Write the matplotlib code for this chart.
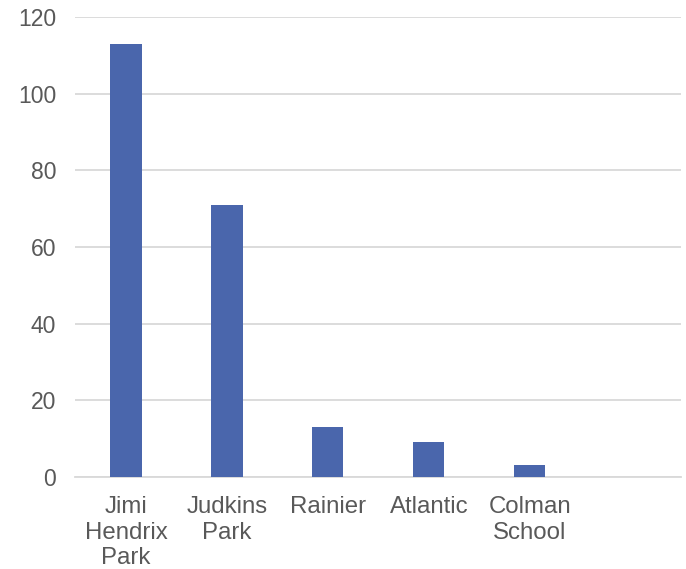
import matplotlib
matplotlib.use('Agg')
import matplotlib.pyplot as plt

# data
labels = ['Jimi\nHendrix\nPark', 'Judkins\nPark', 'Rainier', 'Atlantic', 'Colman\nSchool', '']
values = [113, 71, 13, 9, 3, 0]
yticks = [0, 20, 40, 60, 80, 100, 120]

plt.rcParams['font.family'] = ['Liberation Sans', 'DejaVu Sans']
txt = '#595959'
grid = '#d9d9d9'

fig = plt.figure(figsize=(6.86, 5.69), dpi=100)
ax = fig.add_axes([0.110, 0.162, 0.883, 0.808])

x = list(range(len(labels)))
ax.bar(x, values, width=0.31, color='#4a66ac', zorder=3)

ax.set_xlim(-0.5, len(labels) - 0.5)
ax.set_ylim(0, 120)
ax.set_yticks(yticks)
ax.set_xticks(x)
ax.set_xticklabels(labels, linespacing=1.2)
ax.yaxis.grid(True, color=grid, linewidth=1.3, zorder=0)

for s in ['top', 'right', 'left']:
    ax.spines[s].set_visible(False)
ax.spines['bottom'].set_color(grid)
ax.spines['bottom'].set_linewidth(1.3)

ax.tick_params(axis='y', length=0, pad=14, labelsize=16.5, labelcolor=txt)
ax.tick_params(axis='x', length=0, pad=14, labelsize=17.3, labelcolor=txt)

fig.savefig('out.png', dpi=100)
